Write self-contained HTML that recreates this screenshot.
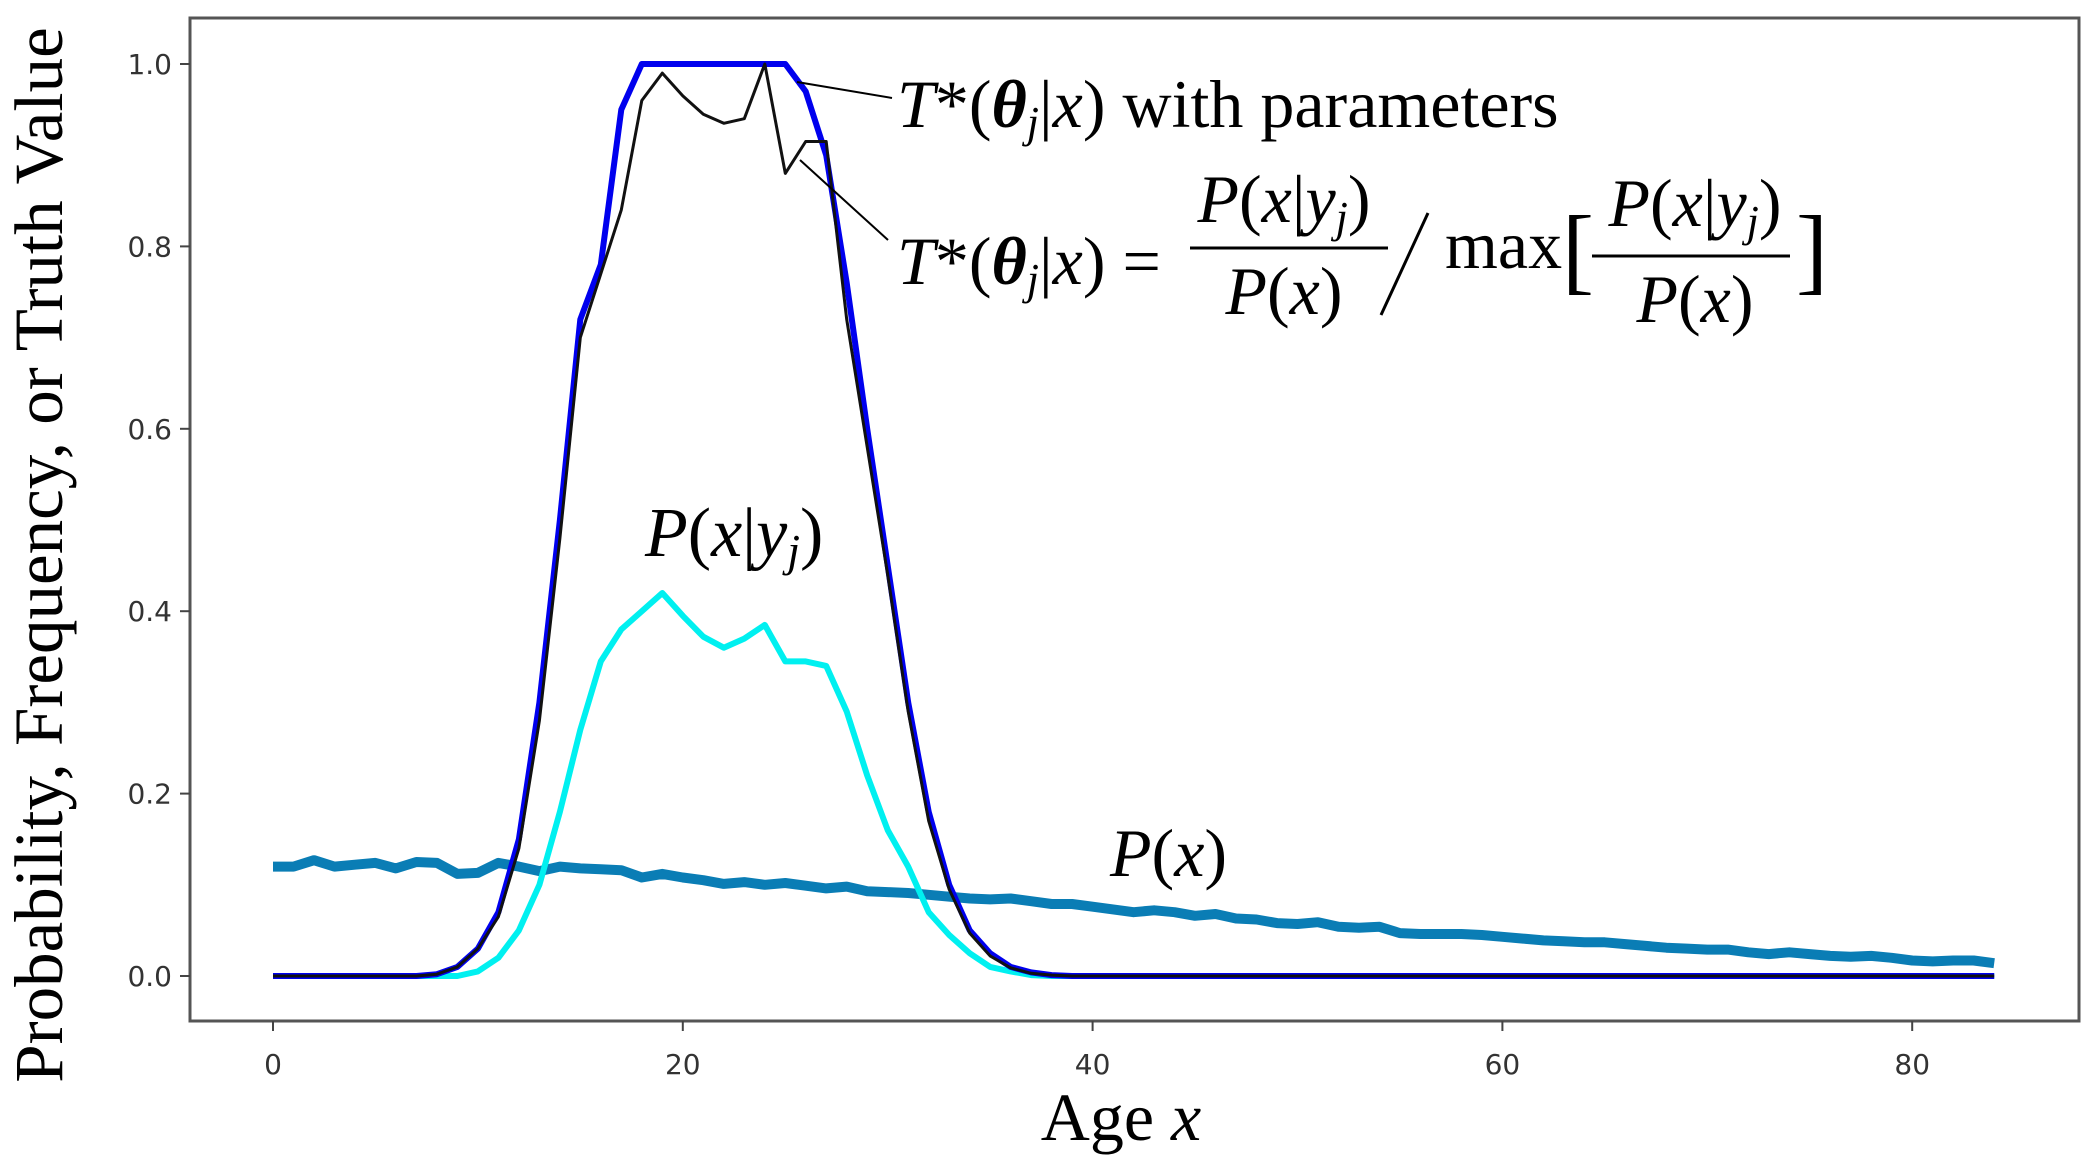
<!DOCTYPE html>
<html><head><meta charset="utf-8">
<style>
html,body{margin:0;padding:0;background:#fff;}
svg{display:block;}
.tick{font-family:"DejaVu Sans","Liberation Sans",sans-serif;font-size:28px;fill:#333;}
.math{font-family:"Liberation Serif",serif;font-style:italic;fill:#000;}
.serif{font-family:"Liberation Serif",serif;fill:#000;}
</style></head>
<body>
<svg id="chart" width="2093" height="1168" viewBox="0 0 2093 1168" xmlns="http://www.w3.org/2000/svg">
<rect x="190" y="18" width="1889" height="1003" fill="#fff" stroke="#555" stroke-width="3"/>
<g id="xticks"></g>
<g id="yticks"></g>
<g id="series"></g>

<text class="serif" font-size="69" transform="translate(62,555) rotate(-90)" text-anchor="middle">Probability, Frequency, or Truth Value</text>
<text class="serif" font-size="68" x="1121" y="1140" text-anchor="middle">Age <tspan font-style="italic">x</tspan></text>

<line x1="797" y1="82" x2="892" y2="98" stroke="#000" stroke-width="2"/>
<line x1="800" y1="160" x2="888" y2="240" stroke="#000" stroke-width="2"/>

<text x="897" y="127" font-size="68"><tspan class="math">T</tspan><tspan class="serif">*(</tspan><tspan class="math" font-weight="bold">θ</tspan><tspan class="math" font-size="44" dy="10">j</tspan><tspan class="serif" dy="-10">|</tspan><tspan class="math">x</tspan><tspan class="serif">)  with parameters</tspan></text>

<g>
<text x="897" y="284" font-size="68"><tspan class="math">T</tspan><tspan class="serif">*(</tspan><tspan class="math" font-weight="bold">θ</tspan><tspan class="math" font-size="44" dy="10">j</tspan><tspan class="serif" dy="-10">|</tspan><tspan class="math">x</tspan><tspan class="serif">) =</tspan></text>
<text x="1284" y="222" font-size="68" text-anchor="middle"><tspan class="math">P</tspan><tspan class="serif">(</tspan><tspan class="math">x</tspan><tspan class="serif">|</tspan><tspan class="math">y</tspan><tspan class="math" font-size="44" dy="10">j</tspan><tspan class="serif" dy="-10">)</tspan></text>
<line x1="1190" y1="248" x2="1388" y2="248" stroke="#000" stroke-width="3"/>
<text x="1284" y="314" font-size="68" text-anchor="middle"><tspan class="math">P</tspan><tspan class="serif">(</tspan><tspan class="math">x</tspan><tspan class="serif">)</tspan></text>
<line x1="1428" y1="213" x2="1381" y2="315" stroke="#000" stroke-width="3"/>
<text class="serif" x="1445" y="268" font-size="68">max</text>
<text class="serif" x="1562" y="282" font-size="96">[</text>
<text x="1695" y="226" font-size="68" text-anchor="middle"><tspan class="math">P</tspan><tspan class="serif">(</tspan><tspan class="math">x</tspan><tspan class="serif">|</tspan><tspan class="math">y</tspan><tspan class="math" font-size="44" dy="10">j</tspan><tspan class="serif" dy="-10">)</tspan></text>
<line x1="1592" y1="256" x2="1790" y2="256" stroke="#000" stroke-width="3"/>
<text x="1695" y="322" font-size="68" text-anchor="middle"><tspan class="math">P</tspan><tspan class="serif">(</tspan><tspan class="math">x</tspan><tspan class="serif">)</tspan></text>
<text class="serif" x="1796" y="282" font-size="96">]</text>
</g>

<text x="645" y="556" font-size="70"><tspan class="math">P</tspan><tspan class="serif">(</tspan><tspan class="math">x</tspan><tspan class="serif">|</tspan><tspan class="math">y</tspan><tspan class="math" font-size="46" dy="10">j</tspan><tspan class="serif" dy="-10">)</tspan></text>
<text x="1110" y="876" font-size="68"><tspan class="math">P</tspan><tspan class="serif">(</tspan><tspan class="math">x</tspan><tspan class="serif">)</tspan></text>
</svg>
<script>
const ages = Array.from({length:85},(_,i)=>i);
const xTicks = [0,20,40,60,80];
const yTicks = [0.0,0.2,0.4,0.6,0.8,1.0];
const yTickLabels = ["0.0","0.2","0.4","0.6","0.8","1.0"];
const pX = [0.12,0.12,0.127,0.12,0.122,0.124,0.118,0.125,0.124,0.112,0.113,0.124,0.12,0.115,0.12,0.118,0.117,0.116,0.108,0.112,0.108,0.105,0.101,0.103,0.1,0.102,0.099,0.096,0.098,0.093,0.092,0.091,0.089,0.087,0.085,0.084,0.085,0.082,0.079,0.079,0.076,0.073,0.07,0.072,0.07,0.066,0.068,0.063,0.062,0.058,0.057,0.059,0.054,0.053,0.054,0.047,0.046,0.046,0.046,0.045,0.043,0.041,0.039,0.038,0.037,0.037,0.035,0.033,0.031,0.03,0.029,0.029,0.026,0.024,0.026,0.024,0.022,0.021,0.022,0.02,0.017,0.016,0.017,0.017,0.014];
const tParam = [0,0,0,0,0,0,0,0,0.002,0.01,0.03,0.07,0.15,0.3,0.5,0.72,0.78,0.95,1,1,1,1,1,1,1,1,0.97,0.9,0.76,0.6,0.45,0.3,0.18,0.1,0.05,0.025,0.01,0.004,0.001,0,0,0,0,0,0,0,0,0,0,0,0,0,0,0,0,0,0,0,0,0,0,0,0,0,0,0,0,0,0,0,0,0,0,0,0,0,0,0,0,0,0,0,0,0,0];
const tRatio = [0,0,0,0,0,0,0,0,0.002,0.01,0.03,0.065,0.14,0.28,0.48,0.7,0.77,0.84,0.96,0.99,0.965,0.945,0.935,0.94,1,0.88,0.915,0.915,0.72,0.58,0.44,0.29,0.17,0.095,0.047,0.022,0.009,0.003,0.001,0,0,0,0,0,0,0,0,0,0,0,0,0,0,0,0,0,0,0,0,0,0,0,0,0,0,0,0,0,0,0,0,0,0,0,0,0,0,0,0,0,0,0,0,0,0];
const pXgivenY = [0,0,0,0,0,0,0,0,0,0,0.005,0.02,0.05,0.1,0.18,0.27,0.345,0.38,0.4,0.42,0.395,0.372,0.36,0.37,0.385,0.345,0.345,0.34,0.29,0.22,0.16,0.12,0.07,0.045,0.025,0.01,0.005,0.001,0,0,0,0,0,0,0,0,0,0,0,0,0,0,0,0,0,0,0,0,0,0,0,0,0,0,0,0,0,0,0,0,0,0,0,0,0,0,0,0,0,0,0,0,0,0,0];

const X0=273, XS=20.49, Y0=976, YS=912;
function xPos(v){return X0+v*XS;}
function yPos(v){return Y0-v*YS;}
const NS="http://www.w3.org/2000/svg";
function mk(tag,attrs){const e=document.createElementNS(NS,tag);for(const k in attrs)e.setAttribute(k,attrs[k]);return e;}

const xg=document.getElementById('xticks');
xTicks.forEach(t=>{
  const l=mk('line',{x1:xPos(t),x2:xPos(t),y1:1021,y2:1031,stroke:'#444','stroke-width':2});
  
  
  xg.appendChild(l);
  const tx=mk('text',{x:xPos(t),y:1074,'text-anchor':'middle',class:'tick'});
  
  
  tx.textContent=String(t);xg.appendChild(tx);
});
const yg=document.getElementById('yticks');
yTicks.forEach((t,i)=>{
  const l=mk('line',{x1:180,x2:190,y1:yPos(t),y2:yPos(t),stroke:'#444','stroke-width':2});
  
  
  yg.appendChild(l);
  const tx=mk('text',{x:172,y:yPos(t)+10,'text-anchor':'end',class:'tick'});
  
  
  tx.textContent=yTickLabels[i];yg.appendChild(tx);
});
const sg=document.getElementById('series');
function line(vals,color,w,name){
  const d=vals.map((v,i)=>(i?'L':'M')+xPos(ages[i]).toFixed(1)+','+yPos(v).toFixed(1)).join(' ');
  const p=mk('path',{d:d,fill:'none',stroke:color,'stroke-width':w,'stroke-linejoin':'round'});
  
  
  sg.appendChild(p);
}
line(pX,'#0a7db5',10,'line-p-x');
line(pXgivenY,'#00f0f0',6,'line-p-x-given-y');
line(tParam,'#0000ee',6,'line-t-with-parameters');
line(tRatio,'#111111',3,'line-t-ratio');
</script>
</body></html>
